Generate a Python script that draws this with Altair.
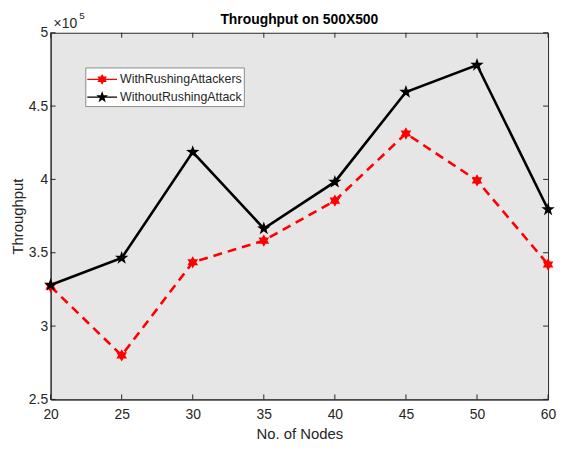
import math
import altair as alt
import pandas as pd

nodes = ["20", "25", "30", "35", "40", "45", "50", "60"]
with_rushing = [327000, 280000, 343500, 358300, 385500, 431300, 399300, 342000]
without_rushing = [328000, 346400, 418600, 366500, 398300, 459600, 478000, 379500]
series_names = ["WithRushingAttackers", "WithoutRushingAttack"]
y_ticks = [250000, 300000, 350000, 400000, 450000, 500000]

W, H = 502, 370
TXT = "#262626"
FONT = "Liberation Sans"


def star_path(n, r_out, r_in, extra=""):
    pts = []
    for k in range(2 * n):
        r = r_out if k % 2 == 0 else r_in
        a = math.radians(-90 + k * 180.0 / n)
        pts.append((r * math.cos(a), r * math.sin(a)))
    d = "M" + "L".join(f"{x:.3f},{y:.3f}" for x, y in pts) + "Z"
    return d + extra


pent = star_path(5, 1.0, 0.40)
hexa = star_path(6, 0.9, 0.52)
line_bits = "M-1.5,-0.07H-0.3V0.07H-1.5ZM0.3,-0.07H1.5V0.07H0.3Z"
pent_leg = star_path(5, 0.62, 0.25, line_bits)
hexa_leg = star_path(6, 0.55, 0.32, line_bits)

df = pd.DataFrame({
    "nodes": nodes * 2,
    "throughput": with_rushing + without_rushing,
    "series": [series_names[0]] * len(nodes) + [series_names[1]] * len(nodes),
})

y_scale = alt.Scale(domain=[250000, 500000], nice=False, zero=False)
x_scale = alt.Scale(type="point", padding=0)
color_scale = alt.Scale(domain=series_names, range=["#ff0000", "#000000"])

x_enc = alt.X("nodes:N", sort=nodes, scale=x_scale,
              axis=alt.Axis(title="No. of Nodes", labelAngle=0, ticks=False,
                            labelFontSize=14, titleFontSize=15, labelPadding=8,
                            titlePadding=5, titleFontWeight="normal",
                            domainColor=TXT, labelColor=TXT, titleColor=TXT))
y_enc = alt.Y("throughput:Q", scale=y_scale,
              axis=alt.Axis(title="Throughput", values=y_ticks, ticks=False, grid=False,
                            labelExpr="datum.value / 100000",
                            labelFontSize=14, titleFontSize=15, labelPadding=3,
                            titlePadding=3, titleFontWeight="normal",
                            domainColor=TXT, labelColor=TXT, titleColor=TXT))

leg = alt.Legend(
    title=None, orient="none", legendX=35, legendY=35,
    fillColor="white", strokeColor="#8c8c8c", padding=2,
    labelFontSize=12.5, labelFont=FONT, labelColor=TXT,
    symbolSize=400, symbolOffset=5, labelOffset=8, rowPadding=1,
    symbolType=alt.ExprRef(expr=f"datum.value === 'WithRushingAttackers' ? '{hexa_leg}' : '{pent_leg}'"),
    symbolFillColor=alt.ExprRef(expr="datum.value === 'WithRushingAttackers' ? '#ff0000' : '#000000'"),
    symbolStrokeWidth=0, symbolOpacity=1,
)
color_enc = alt.Color("series:N", scale=color_scale, legend=leg)

base = alt.Chart(df)

red_line = base.transform_filter(alt.datum.series == series_names[0]).mark_line(
    strokeWidth=2.6, strokeDash=[9, 6]).encode(x=x_enc, y=y_enc, color=color_enc)
red_pts = base.transform_filter(alt.datum.series == series_names[0]).mark_point(
    filled=True, shape=hexa, size=190, opacity=1, strokeWidth=0).encode(
    x=x_enc, y=y_enc, color=color_enc)
black_line = base.transform_filter(alt.datum.series == series_names[1]).mark_line(
    strokeWidth=2.6).encode(x=x_enc, y=y_enc, color=color_enc)
black_pts = base.transform_filter(alt.datum.series == series_names[1]).mark_point(
    filled=True, shape=pent, size=200, opacity=1, strokeWidth=0).encode(
    x=x_enc, y=y_enc, color=color_enc)

tick_x = pd.DataFrame({"nodes": nodes})
tick_y = pd.DataFrame({"throughput": y_ticks})
xt_bottom = alt.Chart(tick_x).mark_rule(color=TXT, strokeWidth=1).encode(
    x=x_enc, y=alt.value(H), y2=alt.value(H - 5))
xt_top = alt.Chart(tick_x).mark_rule(color=TXT, strokeWidth=1).encode(
    x=x_enc, y=alt.value(0), y2=alt.value(5))
yt_left = alt.Chart(tick_y).mark_rule(color=TXT, strokeWidth=1).encode(
    y=y_enc, x=alt.value(0), x2=alt.value(5))
yt_right = alt.Chart(tick_y).mark_rule(color=TXT, strokeWidth=1).encode(
    y=y_enc, x=alt.value(W), x2=alt.value(W - 5))

one = alt.Data(values=[{"a": 1}])
title_txt = alt.Chart(one).mark_text(align="center", baseline="alphabetic", fontSize=14,
                                     fontWeight="bold", font=FONT, color="#000000").encode(
    x=alt.value(W / 2), y=alt.value(-9), text=alt.value("Throughput on 500X500"))
exp_main = alt.Chart(one).mark_text(align="left", baseline="alphabetic", fontSize=14,
                                    font=FONT, color=TXT).encode(
    x=alt.value(3), y=alt.value(-5), text=alt.value("×10"))
exp_sup = alt.Chart(one).mark_text(align="left", baseline="alphabetic", fontSize=10,
                                   font=FONT, color=TXT).encode(
    x=alt.value(29), y=alt.value(-14), text=alt.value("5"))

chart = alt.layer(
    xt_bottom, xt_top, yt_left, yt_right,
    red_line, red_pts, black_line, black_pts,
    title_txt, exp_main, exp_sup,
).properties(
    width=W, height=H,
    padding={"left": 2, "top": 1, "right": 0, "bottom": 0},
).configure(
    font=FONT,
).configure_view(
    fill="#e6e6e6", stroke=TXT, strokeWidth=1,
).configure_axis(
    labelFont=FONT, titleFont=FONT,
)

chart.save("out.html", embed_options={"renderer": "svg", "actions": False})
